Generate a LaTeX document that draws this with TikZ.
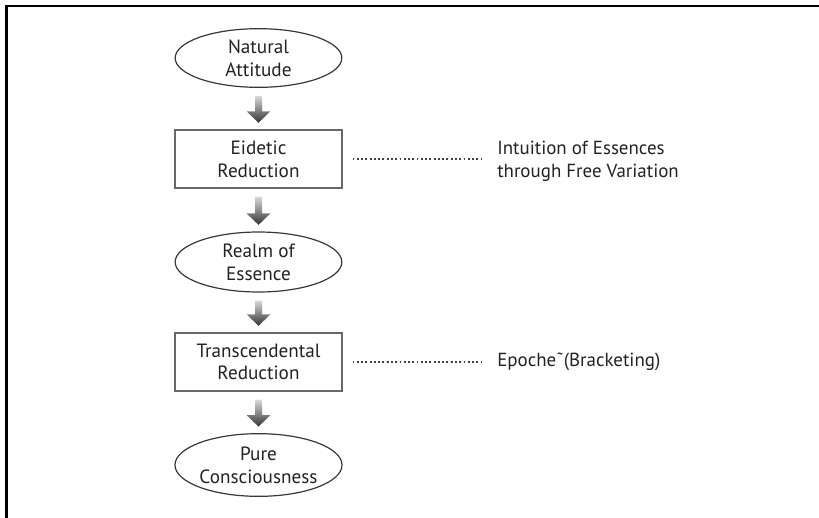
\documentclass[tikz,border=0pt]{standalone}
\usepackage{fontspec}
\setmainfont{PT Sans}
\usepackage{xcolor}
\usetikzlibrary{calc,shapes.geometric}
\definecolor{ink}{HTML}{222222}
\definecolor{rimgray}{HTML}{686868}
\definecolor{dotgray}{HTML}{404040}
\tikzset{
  realm/.style={ellipse,draw=ink!90,fill=white,line width=0.9pt,
                minimum width=125pt,minimum height=44pt,inner sep=0pt,
                align=center,text=ink,font=\fontsize{14.4}{17}\selectfont},
  reduction/.style={rectangle,draw=rimgray,fill=white,line width=1.1pt,
                    minimum width=125pt,minimum height=43.5pt,inner sep=0pt,
                    align=center,text=ink,font=\fontsize{14.4}{17}\selectfont},
  note/.style={anchor=west,align=left,inner sep=0pt,text=ink,
               font=\fontsize{14.2}{17}\selectfont},
  dotline/.style={draw=dotgray,line width=0.95pt,dash pattern=on 1.4pt off 1.8pt},
  frameline/.style={draw=black,line width=1.9pt},
  flowarr/.style={top color=black!15,bottom color=black!80}
}
\newcommand{\flowstep}[2]{%
  \shade[flowarr] ($(#1.south)+(-3.5,8)$) -- ($(#2.north)+(-3.5,-18)$)
    -- ($(#2.north)+(-12,-18)$) -- ($(#2.north)+(0,-6.5)$)
    -- ($(#2.north)+(12,-18)$) -- ($(#2.north)+(3.5,-18)$)
    -- ($(#1.south)+(3.5,8)$) -- cycle;}

\begin{document}
\begin{tikzpicture}[x=0.75pt,y=-0.75pt]
  \useasboundingbox (0,0) rectangle (819,518);
  \draw[frameline] (819,6) -- (6.5,6) -- (6.5,518);

  % main column
  \node[realm] (nat) at (258.5,58) {Natural\\Attitude};
  \node[reduction] (eid) at (258.5,159) {Eidetic\\Reduction};
  \node[realm,minimum height=45pt] (ess) at (258.5,262) {Realm of\\Essence};
  \node[reduction] (tra) at (258.5,362) {Transcendental\\Reduction};
  \node[realm,minimum height=47pt] (pur) at (258.5,465) {Pure\\Consciousness};

  \foreach \a/\b in {nat/eid,eid/ess,ess/tra,tra/pur}
    \flowstep{\a}{\b};

  % side notes
  \node[note] (free) at (497,161) {Intuition of Essences\\through Free Variation};
  \node[note] (epo) at (497,362) {Epoche˜(Bracketing)};
  \draw[dotline,shorten <=7.5pt,shorten >=10.5pt] (eid.east) -- (eid.east -| free.west);
  \draw[dotline,shorten <=7.5pt,shorten >=10.5pt] (tra.east) -- (epo.west);
\end{tikzpicture}
\end{document}
